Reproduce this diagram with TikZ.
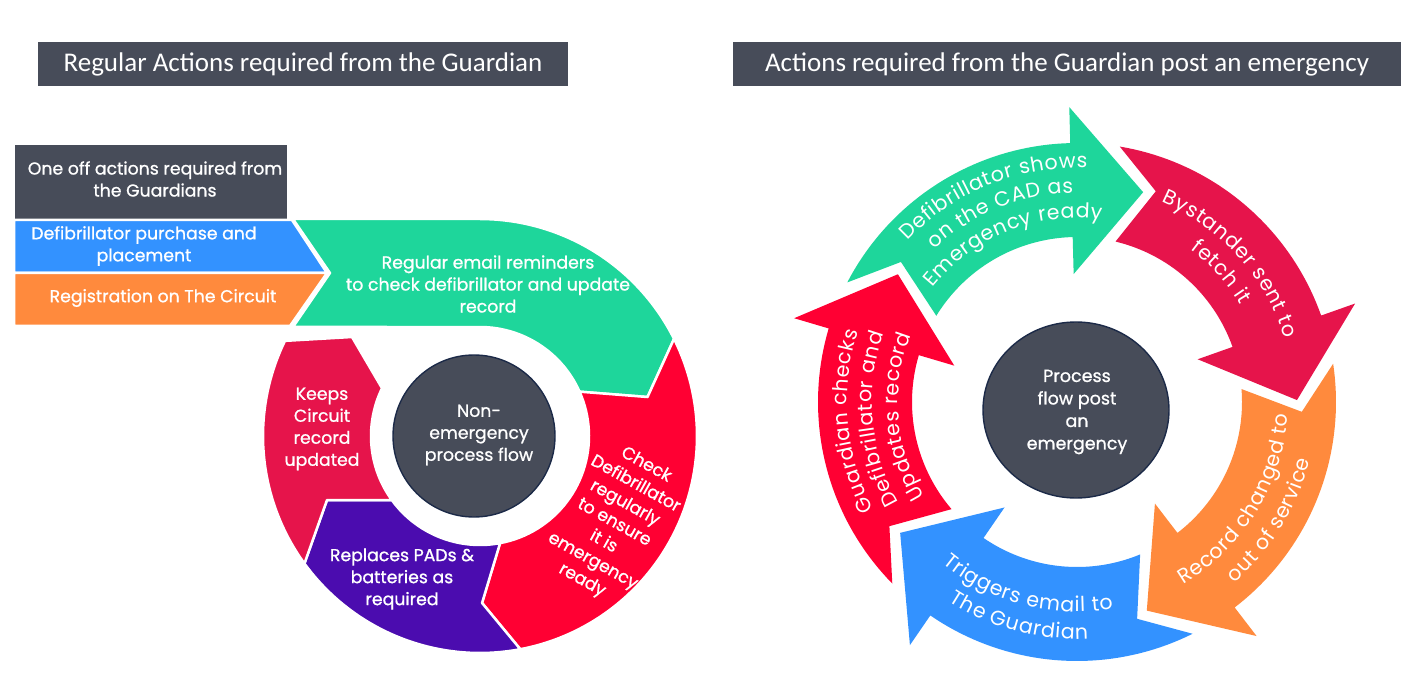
\documentclass[tikz,border=0pt]{standalone}
\usepackage{fontspec}
\setmainfont{Poppins}
\newfontfamily\titlefont{Carlito}
\newfontfamily\medfont{Poppins}[FakeBold=0.9]
\newfontfamily\ringfont{Poppins}
\usetikzlibrary{decorations.text,shapes.geometric}
\definecolor{darkbox}{RGB}{71,76,89}
\definecolor{hubline}{RGB}{28,42,72}
\definecolor{cgreen}{RGB}{30,214,155}
\definecolor{cblue}{RGB}{51,146,255}
\definecolor{corange}{RGB}{255,138,61}
\definecolor{ccrimson}{RGB}{230,20,75}
\definecolor{cred}{RGB}{255,0,51}
\definecolor{cpurple}{RGB}{75,12,175}
\newcommand\ringfontsel{\ringfont\fontsize{20.5}{24}\selectfont}
\begin{document}
\begin{tikzpicture}[x=1pt,y=-1pt,
  titlebox/.style={fill=darkbox,text=white,font=\titlefont\fontsize{27}{32}\selectfont,minimum height=44pt,inner sep=0pt},
  lbl/.style={text=white,align=center,inner sep=0pt,font=\medfont\fontsize{17.3}{22}\selectfont},
  seg/.style={draw=white,line width=2.5pt,line join=round},
  hub/.style={fill=darkbox,draw=hubline,line width=1.4pt},
  ringtext/.style={decorate,decoration={text effects along path,text={#1},text align=center,
     text effects/.cd, text along path,
     characters={text=white,font=\ringfontsel,inner sep=0pt},
     character widths={font=\ringfontsel,inner xsep=0.35pt}}}
]
\useasboundingbox (0,0) rectangle (1424,684);

% titles
\node[titlebox,minimum width=530pt] (title1) at (303,64) {Regular Actions required from the Guardian};
\node[titlebox,minimum width=668pt] (title2) at (1067,64) {Actions required from the Guardian post an emergency};

% ---------- left: one-off actions ----------
\path[seg,fill=darkbox] (14,144) rectangle (288,220);
\path[seg,fill=cblue] (14,220) -- (292,220) -- (327,273) -- (14,273) -- cycle;
\path[seg,fill=corange] (14,273) -- (327,273) -- (290,326) -- (14,326) -- cycle;

% ---------- left: non-emergency ring ----------
\begin{scope}[shift={(480,436)}]
  % green
  \path[seg,fill=cgreen] (-187,-217) -- (270:217)
     -- plot[domain=270:333.4,samples=40,variable=\t] (\t:217)
     -- (346.9:172) -- (336:109)
     -- plot[domain=336:270,samples=30,variable=\t] (\t:109)
     -- (-187,-109) -- (-150,-163) -- cycle;
  % red (check)
  \path[seg,fill=cred] (333.4:217)
     -- plot[domain=333.4:439.3,samples=60,variable=\t] (\t:217)
     -- (449.3:167) -- (439.4:109)
     -- plot[domain=439.4:336,samples=40,variable=\t] (\t:109)
     -- (346.9:172) -- cycle;
  % purple (replaces)
  \path[seg,fill=cpurple] (79.3:217)
     -- plot[domain=79.3:144,samples=40,variable=\t] (\t:217)
     -- (-153,64) -- (144:109)
     -- plot[domain=144:79.4,samples=30,variable=\t] (\t:109)
     -- (89.3:167) -- cycle;
  % crimson (keeps)
  \path[seg,fill=ccrimson] (144:217)
     -- plot[domain=144:206,samples=40,variable=\t] (\t:217)
     -- (-128,-99) -- (206:109)
     -- plot[domain=206:144,samples=30,variable=\t] (\t:109)
     -- (-153,64) -- cycle;
\end{scope}
\node[hub,circle,minimum size=162pt,inner sep=0pt] (hubL) at (474,436) {};

% left labels
\node[lbl] (oneoff) at (155,179) {One off actions required from\\the Guardians};
\node[lbl] (purchase) at (144,246) {Defibrillator purchase and\\placement};
\node[lbl] (registration) at (163,298) {Registration on The Circuit};
\node[lbl] (reminders) at (488,284) {Regular email reminders\\to check defibrillator and update\\record};
\node[lbl] (hubLtext) at (479,435) {Non-\\emergency\\process flow};
\node[lbl] (keeps) at (322,429) {Keeps\\Circuit\\record\\updated};
\node[lbl] (replaces) at (402,579) {Replaces PADs \&\\batteries as\\required};
\node[lbl,rotate=-29] (check) at (614,523) {Check\\Defibrillator\\regularly\\to ensure\\it is\\emergency\\ready};

% ---------- right: emergency cycle ----------
\begin{scope}[shift={(1077,402)}]
  % blue
  \path[fill=cblue] (63.5:259)
     -- plot[domain=63.5:124.5,samples=40,variable=\t] (\t:259)
     -- (124.5:295) -- (143.5:220) -- (124.5:128) -- (124.5:165)
     -- plot[domain=124.5:67.5,samples=40,variable=\t] (\t:165)
     -- (74.5:225) -- cycle;
  % red (guardian checks)
  \path[fill=cred] (135.5:259)
     -- plot[domain=135.5:196.5,samples=40,variable=\t] (\t:259)
     -- (196.5:295) -- (215.5:220) -- (196.5:128) -- (196.5:165)
     -- plot[domain=196.5:139.5,samples=40,variable=\t] (\t:165)
     -- (146.5:225) -- cycle;
  % green
  \path[fill=cgreen] (207.5:259)
     -- plot[domain=207.5:268.5,samples=40,variable=\t] (\t:259)
     -- (268.5:295) -- (287.5:220) -- (268.5:128) -- (268.5:165)
     -- plot[domain=268.5:211.5,samples=40,variable=\t] (\t:165)
     -- (218.5:225) -- cycle;
  % crimson (bystander)
  \path[fill=ccrimson] (279.5:259)
     -- plot[domain=279.5:340.5,samples=40,variable=\t] (\t:259)
     -- (340.5:295) -- (359.5:220) -- (340.5:128) -- (340.5:165)
     -- plot[domain=340.5:283.5,samples=40,variable=\t] (\t:165)
     -- (290.5:225) -- cycle;
  % orange
  \path[fill=corange] (351.5:259)
     -- plot[domain=351.5:412.5,samples=40,variable=\t] (\t:259)
     -- (412.5:295) -- (431.5:220) -- (412.5:128) -- (412.5:165)
     -- plot[domain=412.5:355.5,samples=40,variable=\t] (\t:165)
     -- (362.5:225) -- cycle;

  % curved labels
  \path[ringtext={Defibrillator shows}] plot[domain=188:308,samples=80,variable=\t] (\t:234);
  \path[ringtext={on the CAD as}] plot[domain=188:308,samples=80,variable=\t] (\t:209);
  \path[ringtext={Emergency ready}] plot[domain=188:308,samples=80,variable=\t] (\t:184);

  \path[ringtext={Bystander sent to}] plot[domain=258:378,samples=80,variable=\t] (\t:217);
  \path[ringtext={fetch it}] plot[domain=258:378,samples=80,variable=\t] (\t:190);

  \path[ringtext={Record changed to}] plot[domain=91.5:-28.5,samples=80,variable=\t] (\t:211);
  \path[ringtext={out of service}] plot[domain=91.5:-28.5,samples=80,variable=\t] (\t:240);

  \path[ringtext={Triggers email to}] plot[domain=165:45,samples=80,variable=\t] (\t:210);
  \path[ringtext={The Guardian}] plot[domain=165:45,samples=80,variable=\t] (\t:237);

  \path[ringtext={Guardian checks}] plot[domain=115:235,samples=80,variable=\t] (\t:230);
  \path[ringtext={Defibrillator and}] plot[domain=115:235,samples=80,variable=\t] (\t:205);
  \path[ringtext={Updates record}] plot[domain=115:235,samples=80,variable=\t] (\t:179);
\end{scope}
\node[hub,ellipse,minimum width=186pt,minimum height=176pt,inner sep=0pt] (hubR) at (1076,410) {};
\node[lbl,font=\medfont\fontsize{17.5}{22.5}\selectfont] (hubRtext) at (1077,412) {Process\\flow post\\an\\emergency};
\end{tikzpicture}
\end{document}
